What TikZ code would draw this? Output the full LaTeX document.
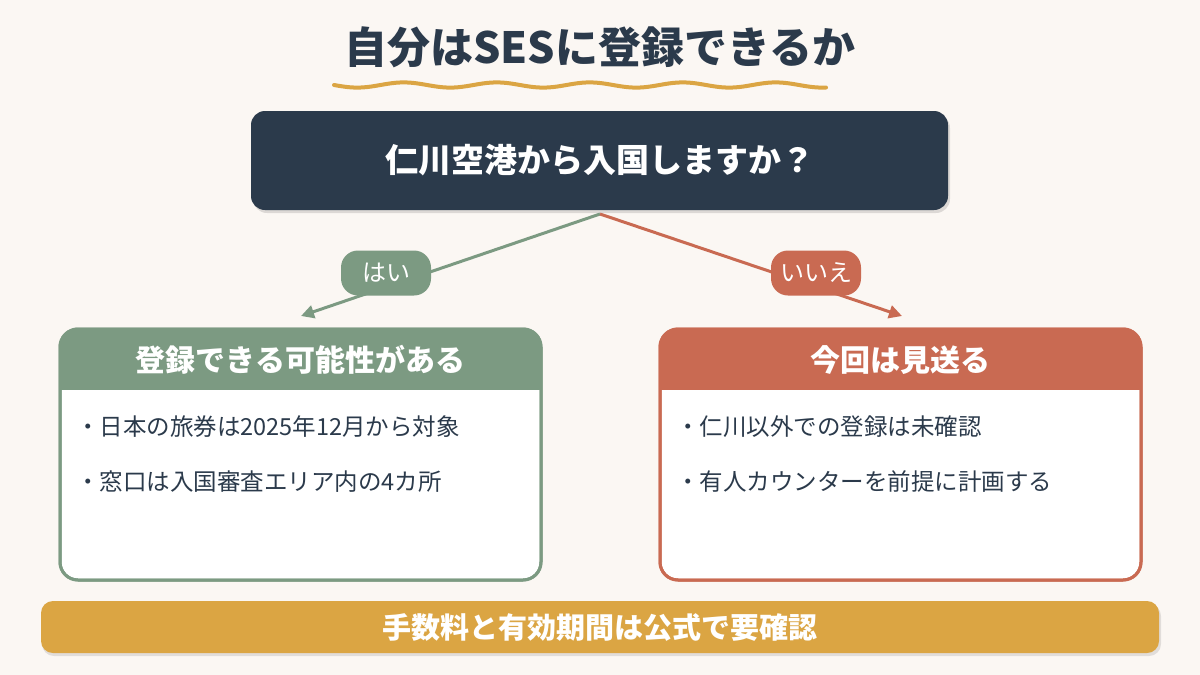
\documentclass[tikz,border=0pt]{standalone}
\usepackage{fontspec}
\setmainfont{Noto Sans CJK JP}
\newfontfamily\jp{Noto Sans CJK JP}
\usetikzlibrary{arrows.meta}
\definecolor{bgc}{HTML}{FBF7F3}
\definecolor{navy}{HTML}{2B3A4B}
\definecolor{sage}{HTML}{7C9A82}
\definecolor{terra}{HTML}{C96A52}
\definecolor{mustard}{HTML}{DBA543}
\tikzset{
  pill/.style={rounded corners=17pt, minimum width=90pt, minimum height=45pt, text=white, font=\jp\fontsize{24}{26}\selectfont, inner sep=0pt},
  conn/.style={line width=3pt, -{Triangle[length=13pt,width=13pt]}},
  bullet/.style={anchor=west, text=navy, font=\jp\fontsize{23.5}{26}\selectfont, inner sep=0pt},
  headtxt/.style={text=white, font=\jp\fontsize{30}{32}\selectfont\bfseries, inner sep=0pt},
  card/.style={rounded corners=18pt, minimum width=481pt, minimum height=251pt, fill=white, line width=3pt, inner sep=0pt},
}
\begin{document}
\begin{tikzpicture}[x=1pt,y=-1pt]
\fill[bgc] (0,0) rectangle (1200,675);
\useasboundingbox (0,0) rectangle (1200,675);
% title
\node[text=navy, font=\jp\fontsize{43}{46}\selectfont\bfseries, inner sep=0pt] (title) at (600,47) {自分はSESに登録できるか};
\draw[mustard, line width=4pt, line cap=round] plot[domain=0:492, samples=120] ({\x+334}, {85+2.6*sin(\x*3.871)});
% question
\fill[black, opacity=0.12, rounded corners=14pt] (253,114) rectangle (950,213);
\node[fill=navy, rounded corners=14pt, minimum width=697pt, minimum height=99pt, inner sep=0pt, text=white, font=\jp\fontsize{33}{36}\selectfont\bfseries] (q) at (599.5,160.5) {仁川空港から入国しますか？};
\coordinate (fork) at (600,214);
\coordinate (yesend) at (301,316);
\coordinate (noend) at (902,316);
\draw[sage, conn] (fork) -- (yesend);
\draw[terra, conn] (fork) -- (noend);
\node[pill, fill=sage] (yeslbl) at (386,273) {はい};
\node[pill, fill=terra] (nolbl) at (816,273) {いいえ};
% left card
\node[card, draw=sage] (yesbox) at (300.5,454.5) {};
\begin{scope}
\clip[rounded corners=18pt] (60,329) rectangle (541,580);
\fill[sage] (60,329) rectangle (541,390);
\end{scope}
\draw[sage, line width=3pt, rounded corners=18pt] (60,329) rectangle (541,580);
\node[headtxt] (yeshead) at (300.5,360) {登録できる可能性がある};
\node[bullet] (y1) at (76,427) {・日本の旅券は2025年12月から対象};
\node[bullet] (y2) at (76,482) {・窓口は入国審査エリア内の4カ所};
% right card
\node[card, draw=terra] (nobox) at (900.5,454.5) {};
\begin{scope}
\clip[rounded corners=18pt] (660,329) rectangle (1141,580);
\fill[terra] (660,329) rectangle (1141,390);
\end{scope}
\draw[terra, line width=3pt, rounded corners=18pt] (660,329) rectangle (1141,580);
\node[headtxt] (nohead) at (900.5,360) {今回は見送る};
\node[bullet] (n1) at (676,427) {・仁川以外での登録は未確認};
\node[bullet] (n2) at (676,482) {・有人カウンターを前提に計画する};
% bottom bar
\fill[black, opacity=0.1, rounded corners=12pt] (42,604) rectangle (1161,656);
\node[fill=mustard, rounded corners=12pt, minimum width=1118pt, minimum height=52pt, inner sep=0pt, text=white, font=\jp\fontsize{29}{31}\selectfont\bfseries] (note) at (600,627) {手数料と有効期間は公式で要確認};
\end{tikzpicture}
\end{document}
